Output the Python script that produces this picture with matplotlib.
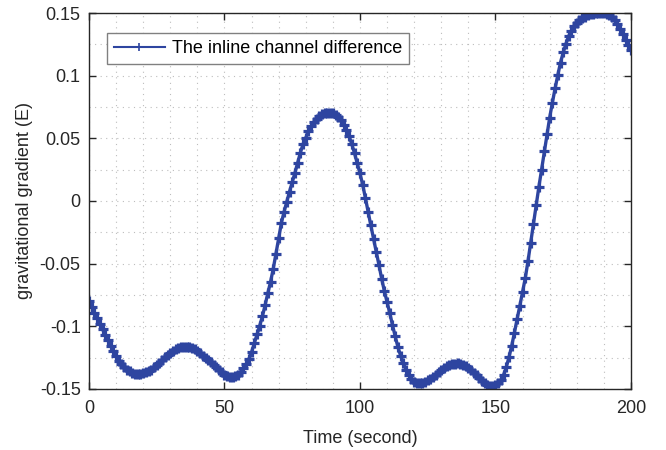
import numpy as np
import matplotlib
matplotlib.use("Agg")
import matplotlib.pyplot as plt
from matplotlib.ticker import MultipleLocator

# time axis, one sample per second, 0..200 s
time_s = np.arange(0, 201, 1)

# inline channel difference (E), one value per second
inline_diff = [
    -0.0800, -0.0845, -0.0890, -0.0935, -0.0980, -0.1025, -0.1070, -0.1113, -0.1155, -0.1195,
    -0.1240, -0.1275, -0.1303, -0.1327, -0.1345, -0.1360, -0.1371, -0.1378, -0.1382, -0.1381,
    -0.1376, -0.1368, -0.1357, -0.1345, -0.1328, -0.1310, -0.1290, -0.1268, -0.1247, -0.1227,
    -0.1210, -0.1195, -0.1182, -0.1172, -0.1166, -0.1163, -0.1163, -0.1166, -0.1172, -0.1182,
    -0.1198, -0.1216, -0.1235, -0.1253, -0.1270, -0.1288, -0.1307, -0.1326, -0.1345, -0.1365,
    -0.1385, -0.1400, -0.1408, -0.1408, -0.1400, -0.1385, -0.1362, -0.1333, -0.1300, -0.1260,
    -0.1205, -0.1135, -0.1065, -0.0995, -0.0920, -0.0830, -0.0735, -0.0645, -0.0540, -0.0420,
    -0.0295, -0.0175, -0.0085, -0.0005, 0.0075, 0.0150, 0.0225, 0.0305, 0.0385, 0.0455,
    0.0505, 0.0555, 0.0595, 0.0628, 0.0655, 0.0678, 0.0695, 0.0703, 0.0706, 0.0706,
    0.0702, 0.0690, 0.0672, 0.0645, 0.0610, 0.0567, 0.0515, 0.0452, 0.0380, 0.0300,
    0.0220, 0.0130, 0.0025, -0.0085, -0.0195, -0.0300, -0.0405, -0.0510, -0.0620, -0.0718,
    -0.0805, -0.0895, -0.0990, -0.1080, -0.1165, -0.1235, -0.1295, -0.1345, -0.1385, -0.1418,
    -0.1442, -0.1453, -0.1455, -0.1452, -0.1443, -0.1432, -0.1418, -0.1402, -0.1385, -0.1365,
    -0.1345, -0.1330, -0.1318, -0.1308, -0.1301, -0.1297, -0.1296, -0.1299, -0.1306, -0.1317,
    -0.1335, -0.1352, -0.1370, -0.1390, -0.1415, -0.1437, -0.1455, -0.1467, -0.1474, -0.1476,
    -0.1468, -0.1452, -0.1430, -0.1387, -0.1325, -0.1245, -0.1155, -0.1050, -0.0940, -0.0835,
    -0.0725, -0.0615, -0.0480, -0.0335, -0.0185, -0.0035, 0.0110, 0.0250, 0.0395, 0.0535,
    0.0665, 0.0785, 0.0898, 0.1005, 0.1105, 0.1185, 0.1255, 0.1315, 0.1360, 0.1395,
    0.1423, 0.1443, 0.1458, 0.1471, 0.1482, 0.1490, 0.1496, 0.1500, 0.1502, 0.1502,
    0.1499, 0.1493, 0.1482, 0.1465, 0.1442, 0.1412, 0.1375, 0.1332, 0.1285, 0.1245,
    0.1205,
]

x_ticks = [0, 50, 100, 150, 200]
y_ticks = [-0.15, -0.1, -0.05, 0, 0.05, 0.1, 0.15]
y_tick_labels = ["-0.15", "-0.1", "-0.05", "0", "0.05", "0.1", "0.15"]

plt.rcParams["font.family"] = ["Liberation Sans", "DejaVu Sans"]
plt.rcParams["font.size"] = 13

fig = plt.figure(figsize=(6.66, 4.5), dpi=100)
ax = fig.add_axes([0.1336, 0.1356, 0.8138, 0.8355])

ax.plot(time_s, inline_diff, color="#2E45A0", lw=2.4, marker="+",
        ms=7, mew=2.3, label="The inline channel difference")

ax.set_xlim(0, 200)
ax.set_ylim(-0.15, 0.15)
ax.set_xticks(x_ticks)
ax.set_yticks(y_ticks)
ax.set_yticklabels(y_tick_labels)
ax.xaxis.set_minor_locator(MultipleLocator(10))
ax.yaxis.set_minor_locator(MultipleLocator(0.025))
ax.grid(True, which="both", ls=(0, (1, 4)), color="#bdbdbd", lw=0.8)
ax.tick_params(which="major", direction="in", length=5, width=1,
               top=True, right=True, colors="#262626", labelcolor="#262626")
ax.tick_params(axis="x", which="major", pad=8)
ax.tick_params(axis="y", which="major", pad=6)
ax.tick_params(which="minor", length=0)
for s in ax.spines.values():
    s.set_color("#262626")
    s.set_linewidth(1.0)

ax.set_xlabel("Time (second)", color="#262626", labelpad=9)
ax.set_ylabel("gravitational gradient (E)", color="#262626", labelpad=5)

leg = ax.legend(loc="upper left", bbox_to_anchor=(0.033, 0.947), numpoints=1,
                fancybox=False, framealpha=1, edgecolor="#808080",
                borderaxespad=0, handlelength=2.8, handletextpad=0.4,
                fontsize=13)
leg.get_frame().set_linewidth(1.0)
leg.get_lines()[0].set_linewidth(1.5)
leg.get_lines()[0].set_markersize(6)
leg.get_lines()[0].set_markeredgewidth(1.2)

fig.savefig("out.png", dpi=100)
